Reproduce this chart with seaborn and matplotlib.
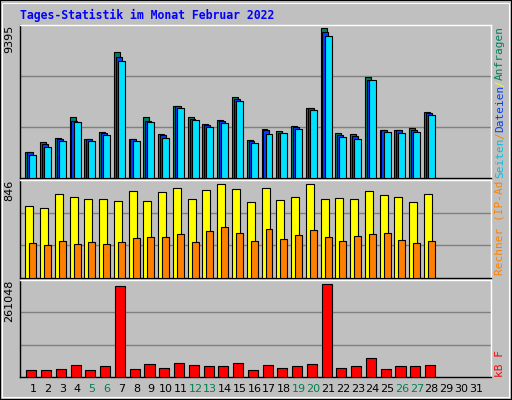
import numpy as np
import pandas as pd
import matplotlib
matplotlib.use("Agg")
import matplotlib.pyplot as plt
import seaborn as sns
from matplotlib.patches import Rectangle

days = list(range(1, 32))
hits = [1634, 2270, 2525, 3841, 2461, 2906, 7930, 2461, 3797, 2779, 4496, 3797, 3415, 3670,
        5069, 2398, 3097, 2970, 3288, 4369, 9395, 2843, 2779, 6341, 3034, 3034, 3161, 4115]
files = [1633, 2121, 2460, 3606, 2460, 2842, 7614, 2460, 3606, 2715, 4496, 3733, 3351, 3606,
         4942, 2333, 3033, 2842, 3224, 4369, 9141, 2715, 2651, 6151, 3033, 3033, 3033, 4051]
pages = [1442, 1951, 2333, 3542, 2333, 2715, 7360, 2333, 3542, 2524, 4369, 3669, 3224, 3478,
         4815, 2206, 2778, 2842, 3097, 4242, 8887, 2588, 2460, 6151, 2906, 2842, 2906, 3924]
visits = [644, 626, 754, 727, 709, 709, 690, 782, 690, 773, 809, 709, 791, 846,
          800, 681, 809, 699, 727, 846, 709, 718, 709, 782, 745, 727, 681, 754]
sites = [315, 296, 333, 305, 324, 305, 324, 360, 370, 370, 397, 324, 425, 461,
         406, 333, 443, 351, 388, 434, 370, 333, 379, 397, 406, 342, 315, 333]
kbytes = [20959, 20959, 23818, 32392, 20959, 29534, 255324, 23818, 35250, 26676, 38108, 32392,
          29534, 29534, 38108, 20959, 32392, 26676, 29534, 35250, 261048, 26676, 29534, 52399,
          23818, 29534, 29534, 32392]
weekend = [5, 6, 12, 13, 19, 20, 26, 27]

df = pd.DataFrame({"day": days[:28], "hits": hits, "files": files, "pages": pages,
                   "visits": visits, "sites": sites, "kbytes": kbytes})

sns.set_style("white")
BG = "#C0C0C0"
W, H = 512, 400
fig = plt.figure(figsize=(5.12, 4.0), dpi=100, facecolor=BG)

# bevelled frame
fig.add_artist(Rectangle((0, 0), 1, 1, transform=fig.transFigure, fill=False, ec="black", lw=1.5))
fig.add_artist(Rectangle((2 / W, 3 / H), 1 - 5 / W, 1 - 6 / H, transform=fig.transFigure,
                         fill=False, ec="white", lw=0.8))


def panel(top, bottom):
    ax = fig.add_axes([20 / W, 1 - bottom / H, (491 - 20) / W, (bottom - top) / H])
    ax.set_facecolor(BG)
    ax.set_xlim(0.12, 32.02)
    ax.set_xticks([])
    ax.set_yticks([])
    for s in ["left", "bottom"]:
        ax.spines[s].set_color("black")
    for s in ["top", "right"]:
        ax.spines[s].set_color("white")
    for s in ax.spines.values():
        s.set_linewidth(1)
    return ax


def draw(ax, col, off, width, color, ec="black"):
    ax.bar(df["day"] + off, df[col], width=width, align="edge", color=color,
           edgecolor=ec, linewidth=0.8, zorder=3)


def grid(ax, top):
    ax.set_ylim(0, top)
    for f in (1 / 3, 2 / 3):
        ax.axhline(top * f, color="#808080", lw=1, zorder=1)


ax1 = panel(25, 178)
grid(ax1, max(hits) * 1.022)
draw(ax1, "hits", -0.52, 0.4, "#00805A")
draw(ax1, "files", -0.40, 0.4, "#0040FF")
draw(ax1, "pages", -0.25, 0.47, "#00E0FF")

ax2 = panel(180, 278)
grid(ax2, max(visits) * 1.043)
draw(ax2, "visits", -0.52, 0.54, "#FFFF00")
draw(ax2, "sites", -0.25, 0.47, "#FF8000")

ax3 = panel(280, 377)
grid(ax3, max(kbytes) * 1.044)
draw(ax3, "kbytes", -0.45, 0.68, "#FF0000")

# left max labels
for ax, lab in ((ax1, "9395"), (ax2, "846"), (ax3, "261048")):
    ax.text(-0.012, 1.0, lab, transform=ax.transAxes, rotation=90, ha="right", va="top",
            fontsize=8, color="black")

# title
fig.text(20 / W, 1 - 15 / H, "Tages-Statistik im Monat Februar 2022", color="#0000FF",
         family="DejaVu Sans Mono", weight="bold", fontsize=8.3, va="center", ha="left")

# day labels
for d in days:
    x = 20 / W + (d - 0.12) / (32.02 - 0.12) * (471 / W)
    fig.text(x, 1 - 389 / H, str(d), ha="center", va="center", fontsize=8,
             color="#008050" if d in weekend else "black")

# right side legend labels
mono = dict(family="DejaVu Sans Mono", fontsize=8, rotation=90, ha="center", va="bottom")
xr = 500 / W
y = 1 - 178 / H
for txt, c in (("Seiten", "#00C0E0"), ("/", "#FF8000"), ("Dateien", "#0040FF"), ("/", "#FFFF00"),
               ("Anfragen", "#00805A")):
    fig.text(xr, y, txt, color=c, **mono)
    y += len(txt) * 6.5 / H
fig.text(xr, 1 - 275 / H, "Rechner (IP-Ad", color="#FF8000", **mono)
fig.text(xr, 1 - 377 / H, "kB F", color="#FF0000", **mono)

fig.savefig("out.png", dpi=100, facecolor=BG)
